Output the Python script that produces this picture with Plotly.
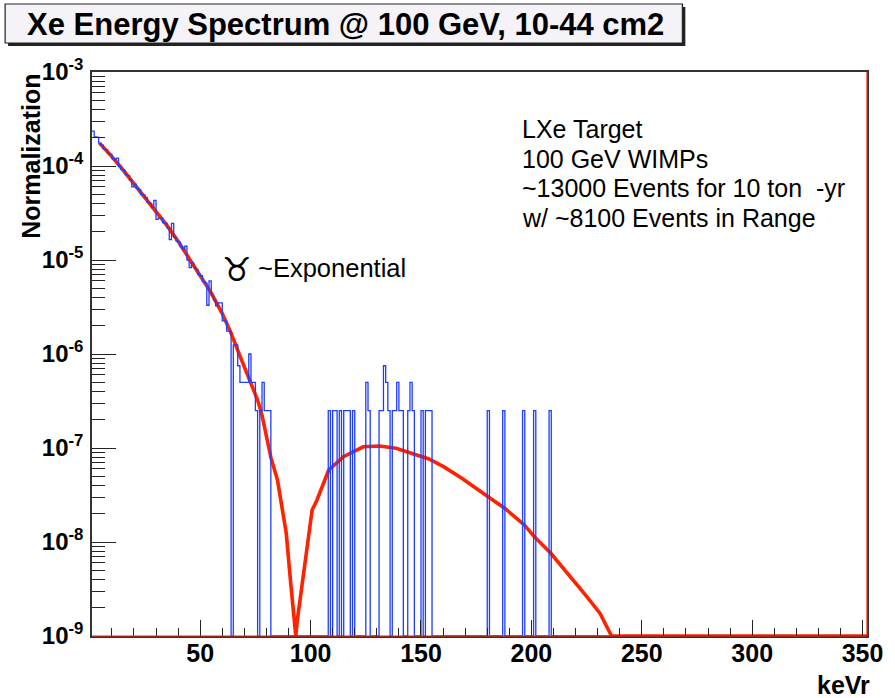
import numpy as np
import plotly.graph_objects as go

# ---------------- data ----------------
# Histogram: 1 keV bins, lower edges 1..351 keV
bin_first_edge_keV = 1
bin_last_edge_keV = 352

# values of bins 1..81 keV (normalization units)
hist_low_values = [
    2.35e-4, 2.05e-4, 2.02e-4, 1.75e-4, 1.68e-4, 1.52e-4, 1.49e-4, 1.36e-4, 1.33e-4, 1.20e-4,
    1.16e-4, 1.21e-4, 9.9e-5, 9.2e-5, 9.0e-5, 8.1e-5, 7.9e-5, 7.1e-5, 6.0e-5, 6.4e-5,
    5.8e-5, 5.6e-5, 5.0e-5, 4.9e-5, 4.6e-5, 4.1e-5, 4.0e-5, 3.6e-5, 4.3e-5, 2.7e-5,
    2.8e-5, 2.8e-5, 2.5e-5, 2.45e-5, 2.2e-5, 1.65e-5, 2.45e-5, 1.75e-5, 1.6e-5, 1.55e-5,
    1.38e-5, 1.3e-5, 1.4e-5, 1.0e-5, 8.3e-6, 9.4e-6, 8.3e-6, 7.9e-6, 7.0e-6, 6.8e-6,
    5.9e-6, 5.7e-6, 3.3e-6, 6.0e-6, 4.25e-6, 3.75e-6, 3.25e-6, 3.5e-6, 3.5e-6, 2.25e-6,
    2.25e-6, 1.75e-6, 1.75e-6, 0, 1.25e-6, 1.25e-6, 7.5e-7, 5e-7, 5e-7, 5e-7,
    5e-7, 1e-6, 5e-7, 5e-7, 2.5e-7, 0, 2.5e-7, 5e-7, 2.5e-7, 2.5e-7,
    2.5e-7,
]

# sparse high-energy bins (lower edge keV, value); all other bins are empty
sparse_bin_keV = [108, 110, 111, 113, 115, 116, 117, 119, 125, 126, 131, 132, 133, 134, 135,
                  137, 138, 139, 140, 141, 144, 145, 146, 150, 152, 153, 154,
                  180, 187, 196, 201, 208]
sparse_values = [2.5e-7, 2.5e-7, 2.5e-7, 2.5e-7, 2.5e-7, 2.5e-7, 2.5e-7, 2.5e-7, 5e-7, 2.5e-7,
                 2.5e-7, 2.5e-7, 7.5e-7, 5e-7, 2.5e-7,
                 2.5e-7, 2.5e-7, 5e-7, 2.5e-7, 2.5e-7, 2.5e-7, 5e-7, 2.5e-7, 2.5e-7, 2.5e-7,
                 2.5e-7, 2.5e-7,
                 2.5e-7, 2.5e-7, 2.5e-7, 2.5e-7, 2.5e-7]

# fitted spectrum curve (keV, normalization)
curve_keV = [4.4, 7, 10, 15, 20, 25, 30, 35, 40, 45, 50, 55, 60, 64, 68, 72, 76, 78, 80, 82,
             85, 89, 91, 93.3, 94, 97, 100.7, 102.9, 108.2, 114.9, 123.8, 131.2, 138.7, 145,
             153.6, 160.4, 168.5, 180.4, 187.9, 196.8, 201.3, 208.8, 217.7, 225.1, 231.1,
             236.3, 352]
curve_val = [1.75e-4, 1.51e-4, 1.26e-4, 9.12e-5, 6.53e-5, 4.68e-5, 3.31e-5, 2.32e-5, 1.58e-5,
             1.05e-5, 6.92e-6, 4.47e-6, 2.69e-6, 1.66e-6, 9.55e-7, 5.50e-7, 3.24e-7, 2.24e-7,
             1.38e-7, 7.94e-8, 4.57e-8, 1.23e-8, 3.63e-9, 1.0e-9, 1.48e-9, 4.65e-9, 2.19e-8,
             2.8e-8, 5.83e-8, 8.07e-8, 1.03e-7, 1.05e-7, 9.93e-8, 8.9e-8, 7.64e-8, 6.3e-8,
             4.76e-8, 3.03e-8, 2.29e-8, 1.52e-8, 1.14e-8, 7.59e-9, 4.28e-9, 2.62e-9, 1.74e-9,
             1.0e-9, 1.0e-9]

y_tick_exp = [-9, -8, -7, -6, -5, -4, -3]
x_tick_vals = [50, 100, 150, 200, 250, 300, 350]

title_text = "Xe Energy Spectrum @ 100 GeV, 10-44 cm2"
info_lines = ["LXe Target", "100 GeV WIMPs", "~13000 Events for 10 ton  -yr",
              "w/ ~8100 Events in Range"]

# ---------------- build ----------------
YMIN, YMAX = 1e-9, 1e-3
edges = np.arange(bin_first_edge_keV, bin_last_edge_keV + 1)
nb = len(edges) - 1
vals = np.zeros(nb)
vals[:len(hist_low_values)] = hist_low_values
for k, v in zip(sparse_bin_keV, sparse_values):
    vals[k - bin_first_edge_keV] = v
vals_plot = np.where(vals > 0, vals, YMIN)  # empty bins drawn at the frame floor (ROOT style)
hx = np.repeat(edges, 2)[1:-1]
hy = np.repeat(vals_plot, 2)

W, H = 895, 698
L, R, T, B = 92, 877, 72, 636


def px(x):
    return (x - L) / (R - L)


def py(y):
    return (B - y) / (B - T)


FONT = "Liberation Sans, Arial, sans-serif"

fig = go.Figure()
fig.add_trace(go.Scatter(x=curve_keV, y=curve_val, mode="lines",
                         line=dict(color="#ff2200", width=3.6), hoverinfo="skip"))
fig.add_trace(go.Scatter(x=hx, y=hy, mode="lines",
                         line=dict(color="#1f3dff", width=1.3), hoverinfo="skip"))

minor_y = [m * 10.0 ** e for e in range(-9, -3) for m in range(2, 10)]

fig.update_layout(
    width=W, height=H,
    margin=dict(l=L, r=W - R, t=T, b=H - B),
    paper_bgcolor="white", plot_bgcolor="white",
    showlegend=False,
    font=dict(family=FONT, color="black"),
    xaxis=dict(
        range=[bin_first_edge_keV, bin_last_edge_keV],
        showgrid=False, zeroline=False,
        showline=True, linecolor="#333333", linewidth=1.5, mirror=True,
        ticks="inside", tickvals=x_tick_vals, ticklen=16, tickwidth=1.3, tickcolor="#222222",
        minor=dict(ticks="inside", tick0=0, dtick=10, ticklen=8, tickwidth=1.2,
                   tickcolor="#222222", showgrid=False),
        tickfont=dict(size=25, weight="bold", family=FONT),
        ticklabelstandoff=-6,
    ),
    yaxis=dict(
        type="log", range=[np.log10(YMIN), np.log10(YMAX)],
        showgrid=False, zeroline=False,
        showline=True, linecolor="#333333", linewidth=1.5, mirror=True,
        ticks="inside", tickmode="array",
        tickvals=[10.0 ** e for e in y_tick_exp],
        ticktext=["10<sup>%d</sup>" % e for e in y_tick_exp],
        ticklen=24, tickwidth=1.3, tickcolor="#222222",
        minor=dict(ticks="inside", tickmode="array", tickvals=minor_y, ticklen=13,
                   tickwidth=1.2, tickcolor="#222222", showgrid=False),
        tickfont=dict(size=24, weight="bold", family=FONT),
        ticklabelstandoff=2,
    ),
)

# red floor / right edge (function drawn at the frame)
fig.add_shape(type="line", xref="paper", yref="paper", x0=0, x1=1, y0=0, y1=0,
              line=dict(color="#ff2200", width=1.2), layer="above")
fig.add_shape(type="line", xref="paper", yref="paper", x0=1, x1=1, y0=0, y1=1,
              line=dict(color="#ff2200", width=1.2), layer="above")

# title box with shadow
bx0, by0, bx1, by1 = 4, 4, 690, 43
fig.add_shape(type="rect", xref="paper", yref="paper",
              x0=px(bx0 + 3), x1=px(bx1 + 3), y0=py(by1 + 3), y1=py(by0 + 3),
              fillcolor="#222222", line=dict(width=0), layer="above")
fig.add_shape(type="rect", xref="paper", yref="paper",
              x0=px(bx0), x1=px(bx1), y0=py(by1), y1=py(by0),
              fillcolor="#f5f3f8", line=dict(color="#222222", width=1.2), layer="above")
fig.add_annotation(text=title_text, xref="paper", yref="paper",
                   x=px(349), y=py(24), xanchor="center", yanchor="middle", showarrow=False,
                   font=dict(size=31, weight="bold", family=FONT))

# axis titles
fig.add_annotation(text="keVr", xref="paper", yref="paper", x=px(882), y=py(685),
                   xanchor="right", yanchor="middle", showarrow=False,
                   font=dict(size=25, weight="bold", family=FONT))
fig.add_annotation(text="Normalization", xref="paper", yref="paper", x=px(30), y=py(156),
                   xanchor="center", yanchor="middle", textangle=-90, showarrow=False,
                   font=dict(size=25, weight="bold", family=FONT))

# info text
for i, line in enumerate(info_lines):
    fig.add_annotation(text=line, xref="paper", yref="paper", x=px(526), y=py(129 + 29.5 * i),
                       xanchor="left", yanchor="middle", showarrow=False,
                       font=dict(size=25, family=FONT))

fig.add_annotation(text="\u2649", xref="paper", yref="paper", x=px(239), y=py(269),
                   xanchor="center", yanchor="middle", showarrow=False,
                   font=dict(size=33, family="DejaVu Sans"))
fig.add_annotation(text="~Exponential", xref="paper", yref="paper", x=px(258), y=py(268),
                   xanchor="left", yanchor="middle", showarrow=False,
                   font=dict(size=25.5, family=FONT))

fig.write_html("out.html")
